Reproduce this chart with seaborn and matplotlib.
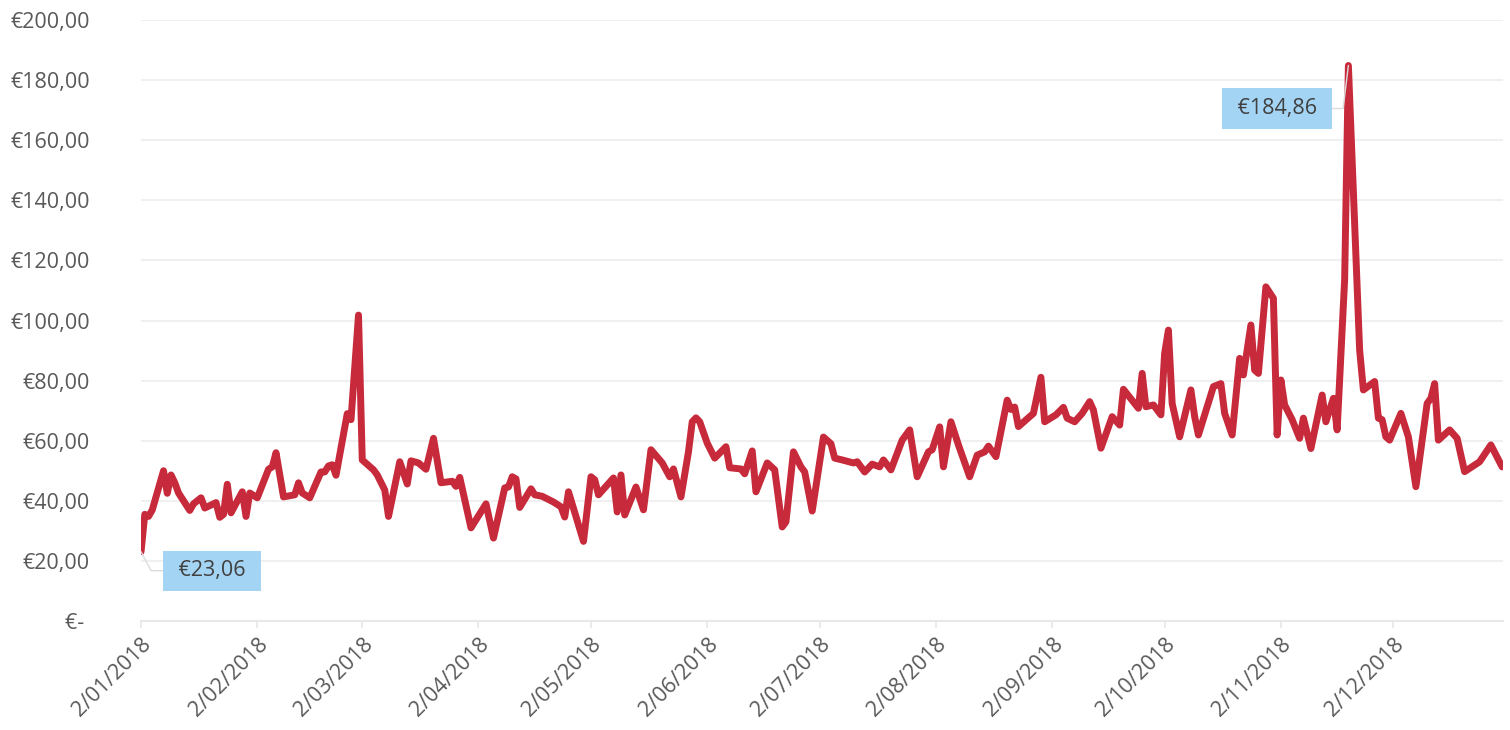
import numpy as np
import pandas as pd
import matplotlib
matplotlib.use("Agg")
import matplotlib.pyplot as plt
import seaborn as sns

# Daily price readings for 2018 (days counted from 2 Jan 2018)
day_offsets = [
    0, 1, 2, 3, 6, 7, 8, 9, 10, 13, 14, 16, 17, 20, 21, 22, 23, 24, 27, 28,
    29, 31, 34, 35, 36, 38, 41, 42, 43, 45, 48, 49, 50, 51, 52, 55, 56, 58, 59, 62,
    63, 65, 66, 69, 71, 72, 74, 76, 78, 80, 83, 84, 85, 88, 92, 94, 97, 98, 99, 100,
    101, 104, 105, 107, 110, 112, 113, 114, 118, 120, 121, 122, 126, 127, 128, 129, 132, 134, 136, 139,
    141, 142, 144, 146, 147, 148, 149, 151, 153, 156, 157, 160, 161, 163, 164, 167, 169, 171, 172, 174,
    176, 177, 179, 182, 184, 185, 187, 190, 191, 193, 195, 197, 198, 200, 203, 205, 207, 210, 211, 213,
    214, 216, 218, 221, 223, 225, 226, 228, 231, 232, 233, 234, 238, 240, 241, 244, 246, 247, 249, 251,
    253, 254, 256, 259, 261, 262, 266, 267, 268, 270, 272, 273, 274, 275, 277, 280, 281, 282, 286, 288,
    289, 291, 293, 294, 296, 297, 298, 300, 302, 303, 304, 305, 307, 309, 310, 312, 315, 316, 318, 319,
    321, 322, 325, 326, 329, 330, 331, 332, 333, 336, 338, 340, 343, 344, 345, 346, 349, 351, 353, 357,
    360, 363,
]
prices = [
    23.06, 35.5, 34.8, 37.0, 50.0, 42.5, 48.6, 46.0, 42.6, 36.8, 39.0, 41.0, 37.6, 39.4, 34.5, 35.5, 45.5, 36.0, 43.0, 34.8,
    42.6, 41.0, 50.5, 51.3, 56.0, 41.3, 42.0, 46.0, 42.6, 41.0, 49.6, 49.6, 51.6, 52.0, 48.5, 69.0, 67.0, 101.8, 53.6, 50.3,
    48.6, 43.6, 34.8, 53.0, 45.6, 53.3, 52.6, 50.5, 60.8, 46.0, 46.5, 44.8, 47.8, 31.0, 39.0, 27.6, 44.3, 44.6, 48.0, 47.3,
    37.8, 44.0, 42.0, 41.5, 39.6, 38.0, 34.6, 43.0, 26.5, 48.0, 47.0, 42.0, 47.6, 36.3, 48.6, 35.3, 44.6, 37.0, 57.0, 52.6,
    48.0, 50.6, 41.3, 56.3, 66.3, 67.6, 66.3, 59.2, 54.2, 58.0, 51.0, 50.6, 49.0, 56.6, 43.0, 52.6, 50.3, 31.3, 33.0, 56.3,
    51.3, 49.6, 36.6, 61.2, 59.0, 54.2, 53.6, 52.6, 53.0, 49.6, 52.2, 51.3, 53.6, 50.3, 60.2, 63.6, 48.0, 56.3, 57.0, 64.6,
    51.3, 66.3, 58.6, 48.0, 55.2, 56.3, 58.2, 54.7, 73.5, 70.4, 71.2, 64.7, 69.1, 81.1, 66.3, 68.6, 71.1, 67.5, 66.3, 69.1,
    73.0, 70.2, 57.5, 68.0, 65.2, 77.1, 70.8, 82.4, 71.3, 71.9, 68.6, 89.1, 96.8, 72.4, 61.3, 76.9, 68.0, 61.9, 78.0, 79.0,
    69.1, 61.9, 87.4, 81.9, 98.5, 83.5, 82.4, 111.2, 107.4, 61.9, 80.2, 71.9, 67.0, 60.8, 67.5, 57.4, 75.2, 66.3, 74.1, 63.6,
    113.5, 184.86, 90.2, 76.9, 79.7, 67.5, 67.0, 61.3, 60.2, 69.1, 61.3, 44.7, 72.4, 74.1, 79.0, 60.2, 63.6, 60.8, 49.7, 53.0,
    58.6, 51.3,
]
month_ticks = ["2018-01-02", "2018-02-02", "2018-03-02", "2018-04-02", "2018-05-02", "2018-06-02",
               "2018-07-02", "2018-08-02", "2018-09-02", "2018-10-02", "2018-11-02", "2018-12-02"]
y_ticks = [0, 20, 40, 60, 80, 100, 120, 140, 160, 180, 200]

start = pd.Timestamp("2018-01-02")
df = pd.DataFrame({
    "date": start + pd.to_timedelta(day_offsets, unit="D"),
    "price": prices,
})

sns.set_theme(style="white")
plt.rcParams["font.family"] = ["Open Sans", "DejaVu Sans"]

grey_text = "#595959"
line_red = "#C72A3A"

fig = plt.figure(figsize=(15.1, 7.3), dpi=100)
ax = fig.add_axes([0.0934, 0.1493, 0.9020, 0.8233])

sns.lineplot(data=df, x="date", y="price", ax=ax, color=line_red, linewidth=5.0,
             solid_joinstyle="round", solid_capstyle="round", zorder=3)

# axes & grid
ax.set_ylim(0, 200)
ax.set_xlim(start, pd.Timestamp("2018-12-31 06:00"))
ax.set_yticks(y_ticks)
ax.set_yticklabels(["€- "] + [f"€{v:.2f}".replace(".", ",") for v in y_ticks[1:]])
ax.yaxis.grid(True, color="#f0f0f0", linewidth=1.5)
ax.xaxis.grid(False)

tick_dates = pd.to_datetime(month_ticks)
ax.set_xticks(tick_dates)
ax.set_xticklabels([f"{d.day}/{d:%m/%Y}" for d in tick_dates], rotation=45,
                   ha="right", va="top", rotation_mode="anchor")

for side in ["left", "right", "top"]:
    ax.spines[side].set_visible(False)
ax.spines["bottom"].set_color("#e8e8e8")
ax.spines["bottom"].set_linewidth(1.5)
ax.tick_params(axis="x", bottom=True, length=5, width=1.2, color="#e8e8e8",
               labelsize=15.5, labelcolor=grey_text, pad=4)
ax.tick_params(axis="y", left=False, labelsize=15.5, labelcolor=grey_text, pad=31)
ax.set_xlabel("")
ax.set_ylabel("")

# min / max callouts
i_min = int(np.argmin(prices))
i_max = int(np.argmax(prices))
box = dict(boxstyle="square,pad=0.45", facecolor="#A4D4F3", edgecolor="none")
callouts = [
    (i_min, (71, -19), "angle,angleA=180,angleB=118,rad=0"),
    (i_max, (-71, -43), "angle,angleA=0,angleB=83,rad=0"),
]
for i, off, conn in callouts:
    ax.annotate(" " + f"€{prices[i]:.2f}".replace(".", ",") + " ",
                xy=(df["date"][i], prices[i]), xytext=off, textcoords="offset pixels",
                ha="center", va="center", fontsize=15.5, color="#404040", bbox=box,
                arrowprops=dict(arrowstyle="-", color="#dcdcdc", lw=1, shrinkA=0, shrinkB=0,
                                connectionstyle=conn),
                zorder=4)

plt.savefig("out.png", dpi=100)
